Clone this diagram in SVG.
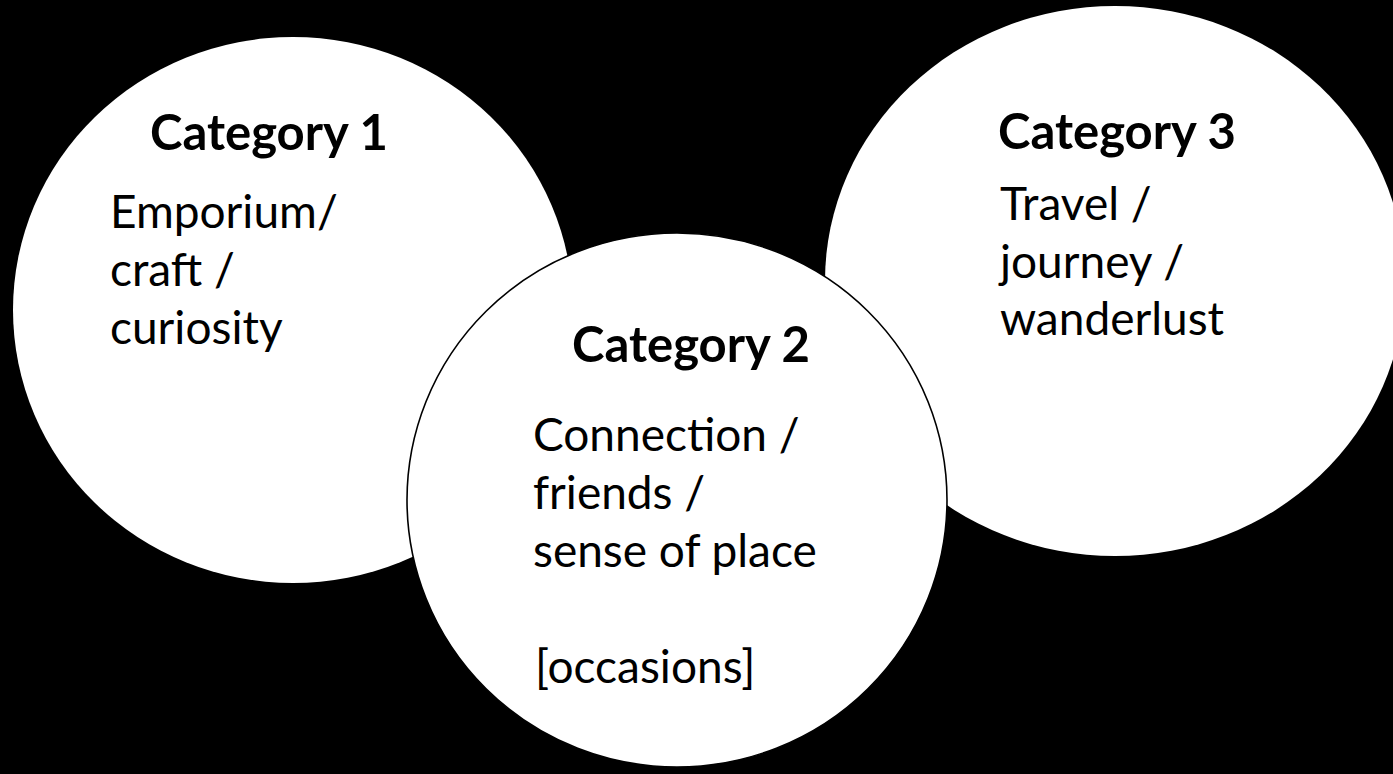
<svg xmlns="http://www.w3.org/2000/svg" width="1393" height="774" viewBox="0 0 1393 774">
<style>
.bubble{fill:#ffffff}
.outlined{stroke:#000000;stroke-width:1.6}
text{font-family:Lato,"Liberation Sans",sans-serif;font-size:46px;fill:#000000}
.head{font-weight:bold;font-size:49px}
</style>
<rect x="0" y="0" width="1393" height="774" fill="#000000"/>
<g id="category1">
<ellipse class="bubble" cx="293" cy="310" rx="280" ry="273"/>
<text class="head" x="150" y="150">Category 1</text>
<text x="110" y="228">Emporium/</text>
<text x="110" y="286">craft /</text>
<text x="110" y="344">curiosity</text>
</g>
<g id="category3">
<ellipse class="bubble" cx="1115" cy="281" rx="290" ry="275"/>
<text class="head" x="998" y="149">Category 3</text>
<text x="1000" y="220">Travel /</text>
<text x="1000" y="278">journey /</text>
<text x="1000" y="335">wanderlust</text>
</g>
<g id="category2">
<ellipse class="bubble outlined" cx="677" cy="500" rx="270" ry="267"/>
<text class="head" x="572" y="362">Category 2</text>
<text x="533" y="451">Connection /</text>
<text x="533" y="509">friends /</text>
<text x="533" y="567">sense of place</text>
<text x="535" y="683">[occasions]</text>
</g>
<g id="connectors"></g>
</svg>
